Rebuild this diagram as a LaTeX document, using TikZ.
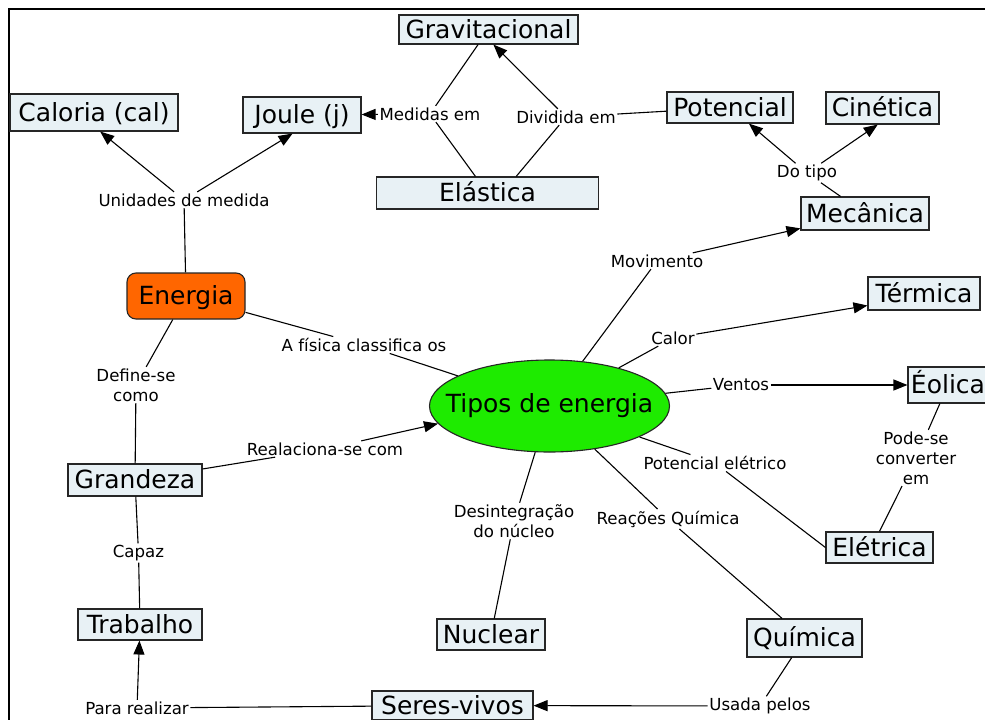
\documentclass[tikz,border=0pt]{standalone}
\usepackage{fontspec}
\setmainfont{DejaVu Sans}
\usetikzlibrary{arrows.meta,shapes.geometric}
\definecolor{boxfill}{RGB}{232,241,245}
\definecolor{orangeE}{RGB}{255,102,0}
\definecolor{greenT}{RGB}{30,235,0}
\tikzset{
 concept/.style={draw=black!85, line width=1.1pt, fill=boxfill, inner sep=0pt,
   text height=19pt, text depth=2pt, font=\fontsize{25}{30}\selectfont},
 lbl/.style={inner sep=1.5pt, font=\fontsize{16.6}{20}\selectfont, align=center},
 conn/.style={line width=1.1pt, draw=black},
 arr/.style={conn, -{Triangle[length=14pt,width=11pt]}},
 frameline/.style={line width=2pt, draw=black}
}
\begin{document}
\begin{tikzpicture}[x=1pt,y=-1pt]
\clip (0,0) rectangle (985,720);
\fill[white] (0,0) rectangle (985,720);
\draw[frameline] (8.5,730) -- (8.5,9.3) -- (995,9.3);

% concepts
\node[concept, minimum width=179pt, minimum height=29pt] (grav) at (488.5,29.5) {Gravitacional};
\node[concept, minimum width=168pt, minimum height=37pt] (cal) at (94,112.5) {Caloria (cal)};
\node[concept, minimum width=118pt, minimum height=36pt] (joule) at (302,115) {Joule (j)};
\node[concept, minimum width=222pt, minimum height=32pt] (elas) at (487.5,193) {Elástica};
\node[concept, minimum width=126pt, minimum height=31pt] (pot) at (730,107.5) {Potencial};
\node[concept, minimum width=113pt, minimum height=32pt] (cin) at (882.5,108) {Cinética};
\node[concept, minimum width=128pt, minimum height=33pt] (mec) at (865,213.5) {Mecânica};
\node[concept, minimum width=112pt, minimum height=33pt] (term) at (924,293.5) {Térmica};
\node[concept, minimum width=80pt, minimum height=36pt] (eol) at (948,385) {Éolica};
\node[concept, minimum width=107pt, minimum height=31pt] (ele) at (879.5,547.5) {Elétrica};
\node[concept, minimum width=115pt, minimum height=38pt] (quim) at (804.5,638) {Química};
\node[concept, minimum width=108pt, minimum height=31pt] (nuc) at (491,634.5) {Nuclear};
\node[concept, minimum width=161pt, minimum height=29pt] (seres) at (452.5,705.5) {Seres-vivos};
\node[concept, minimum width=134pt, minimum height=32pt] (grand) at (135,480) {Grandeza};
\node[concept, minimum width=124pt, minimum height=31pt] (trab) at (140,624.5) {Trabalho};
\node[concept, fill=orangeE, rounded corners=9pt, minimum width=118pt, minimum height=46pt] (energia) at (186,296) {Energia};
\node[ellipse, draw=black!85, line width=1.1pt, fill=greenT, inner sep=0pt, minimum width=240pt, minimum height=92pt,
      label={[font=\fontsize{25}{30}\selectfont]center:Tipos de energia}] (tipos) at (549.5,406) {};

% linking phrases
\node[lbl] (medidas) at (430,114) {Medidas em};
\node[lbl] (divid) at (566,117) {Dividida em};
\node[lbl] (dotipo) at (807,173) {Do tipo};
\node[lbl] (unid) at (184,200) {Unidades de medida};
\node[lbl] (movim) at (657,261) {Movimento};
\node[lbl] (fisica) at (364,345) {A física classifica os};
\node[lbl] (calor) at (673,338) {Calor};
\node[lbl] (ventos) at (741,385) {Ventos};
\node[lbl] (define) at (136,385) {Define-se\\como};
\node[lbl] (realac) at (325,449) {Realaciona-se com};
\node[lbl] (pode) at (916,458) {Pode-se\\converter\\em};
\node[lbl] (potel) at (715,463) {Potencial elétrico};
\node[lbl] (desint) at (514,521) {Desintegração\\do núcleo};
\node[lbl] (reac) at (668,519) {Reações Química};
\node[lbl] (capaz) at (138.5,553) {Capaz};
\node[lbl] (usada) at (760,706) {Usada pelos};
\node[lbl] (para) at (137,708) {Para realizar};

% connectors
\draw[conn] (grav) -- (medidas);
\draw[conn] (elas) -- (medidas);
\draw[arr] (medidas) -- (joule);
\draw[conn] (pot) -- (divid);
\draw[arr] (divid) -- (grav.-72);
\draw[conn] (divid) -- (elas.30);
\draw[conn] (mec) -- (dotipo);
\draw[arr] (dotipo) -- (pot);
\draw[arr] (dotipo) -- (cin.-106);
\draw[conn] (energia) -- (unid);
\draw[arr] (unid) -- (cal.-72);
\draw[arr] (unid) -- (joule.-117);
\draw[conn] (energia) -- (fisica);
\draw[conn] (fisica) -- (tipos);
\draw[conn] (tipos) -- (movim);
\draw[arr] (movim) -- (mec.-167);
\draw[conn] (tipos) -- (calor);
\draw[arr] (calor) -- (term.-168);
\draw[conn] (tipos) -- (ventos);
\draw[arr] (ventos) -- (eol);
\draw[conn] (eol) -- (pode);
\draw[conn] (pode) -- (ele.north);
\draw[conn] (tipos) -- (potel);
\draw[conn] (potel) -- (ele.west);
\draw[conn] (tipos) -- (desint);
\draw[conn] (desint) -- (nuc);
\draw[conn] (tipos) -- (reac);
\draw[conn] (reac) -- (quim);
\draw[conn] (quim) -- (usada);
\draw[arr] (usada) -- (seres);
\draw[conn] (seres) -- (para);
\draw[arr] (para) -- (trab);
\draw[conn] (trab) -- (capaz);
\draw[conn] (capaz) -- (grand);
\draw[conn] (grand) -- (define);
\draw[conn] (define) -- (energia);
\draw[conn] (grand) -- (realac);
\draw[arr] (realac) -- (tipos.-171);
\end{tikzpicture}
\end{document}
